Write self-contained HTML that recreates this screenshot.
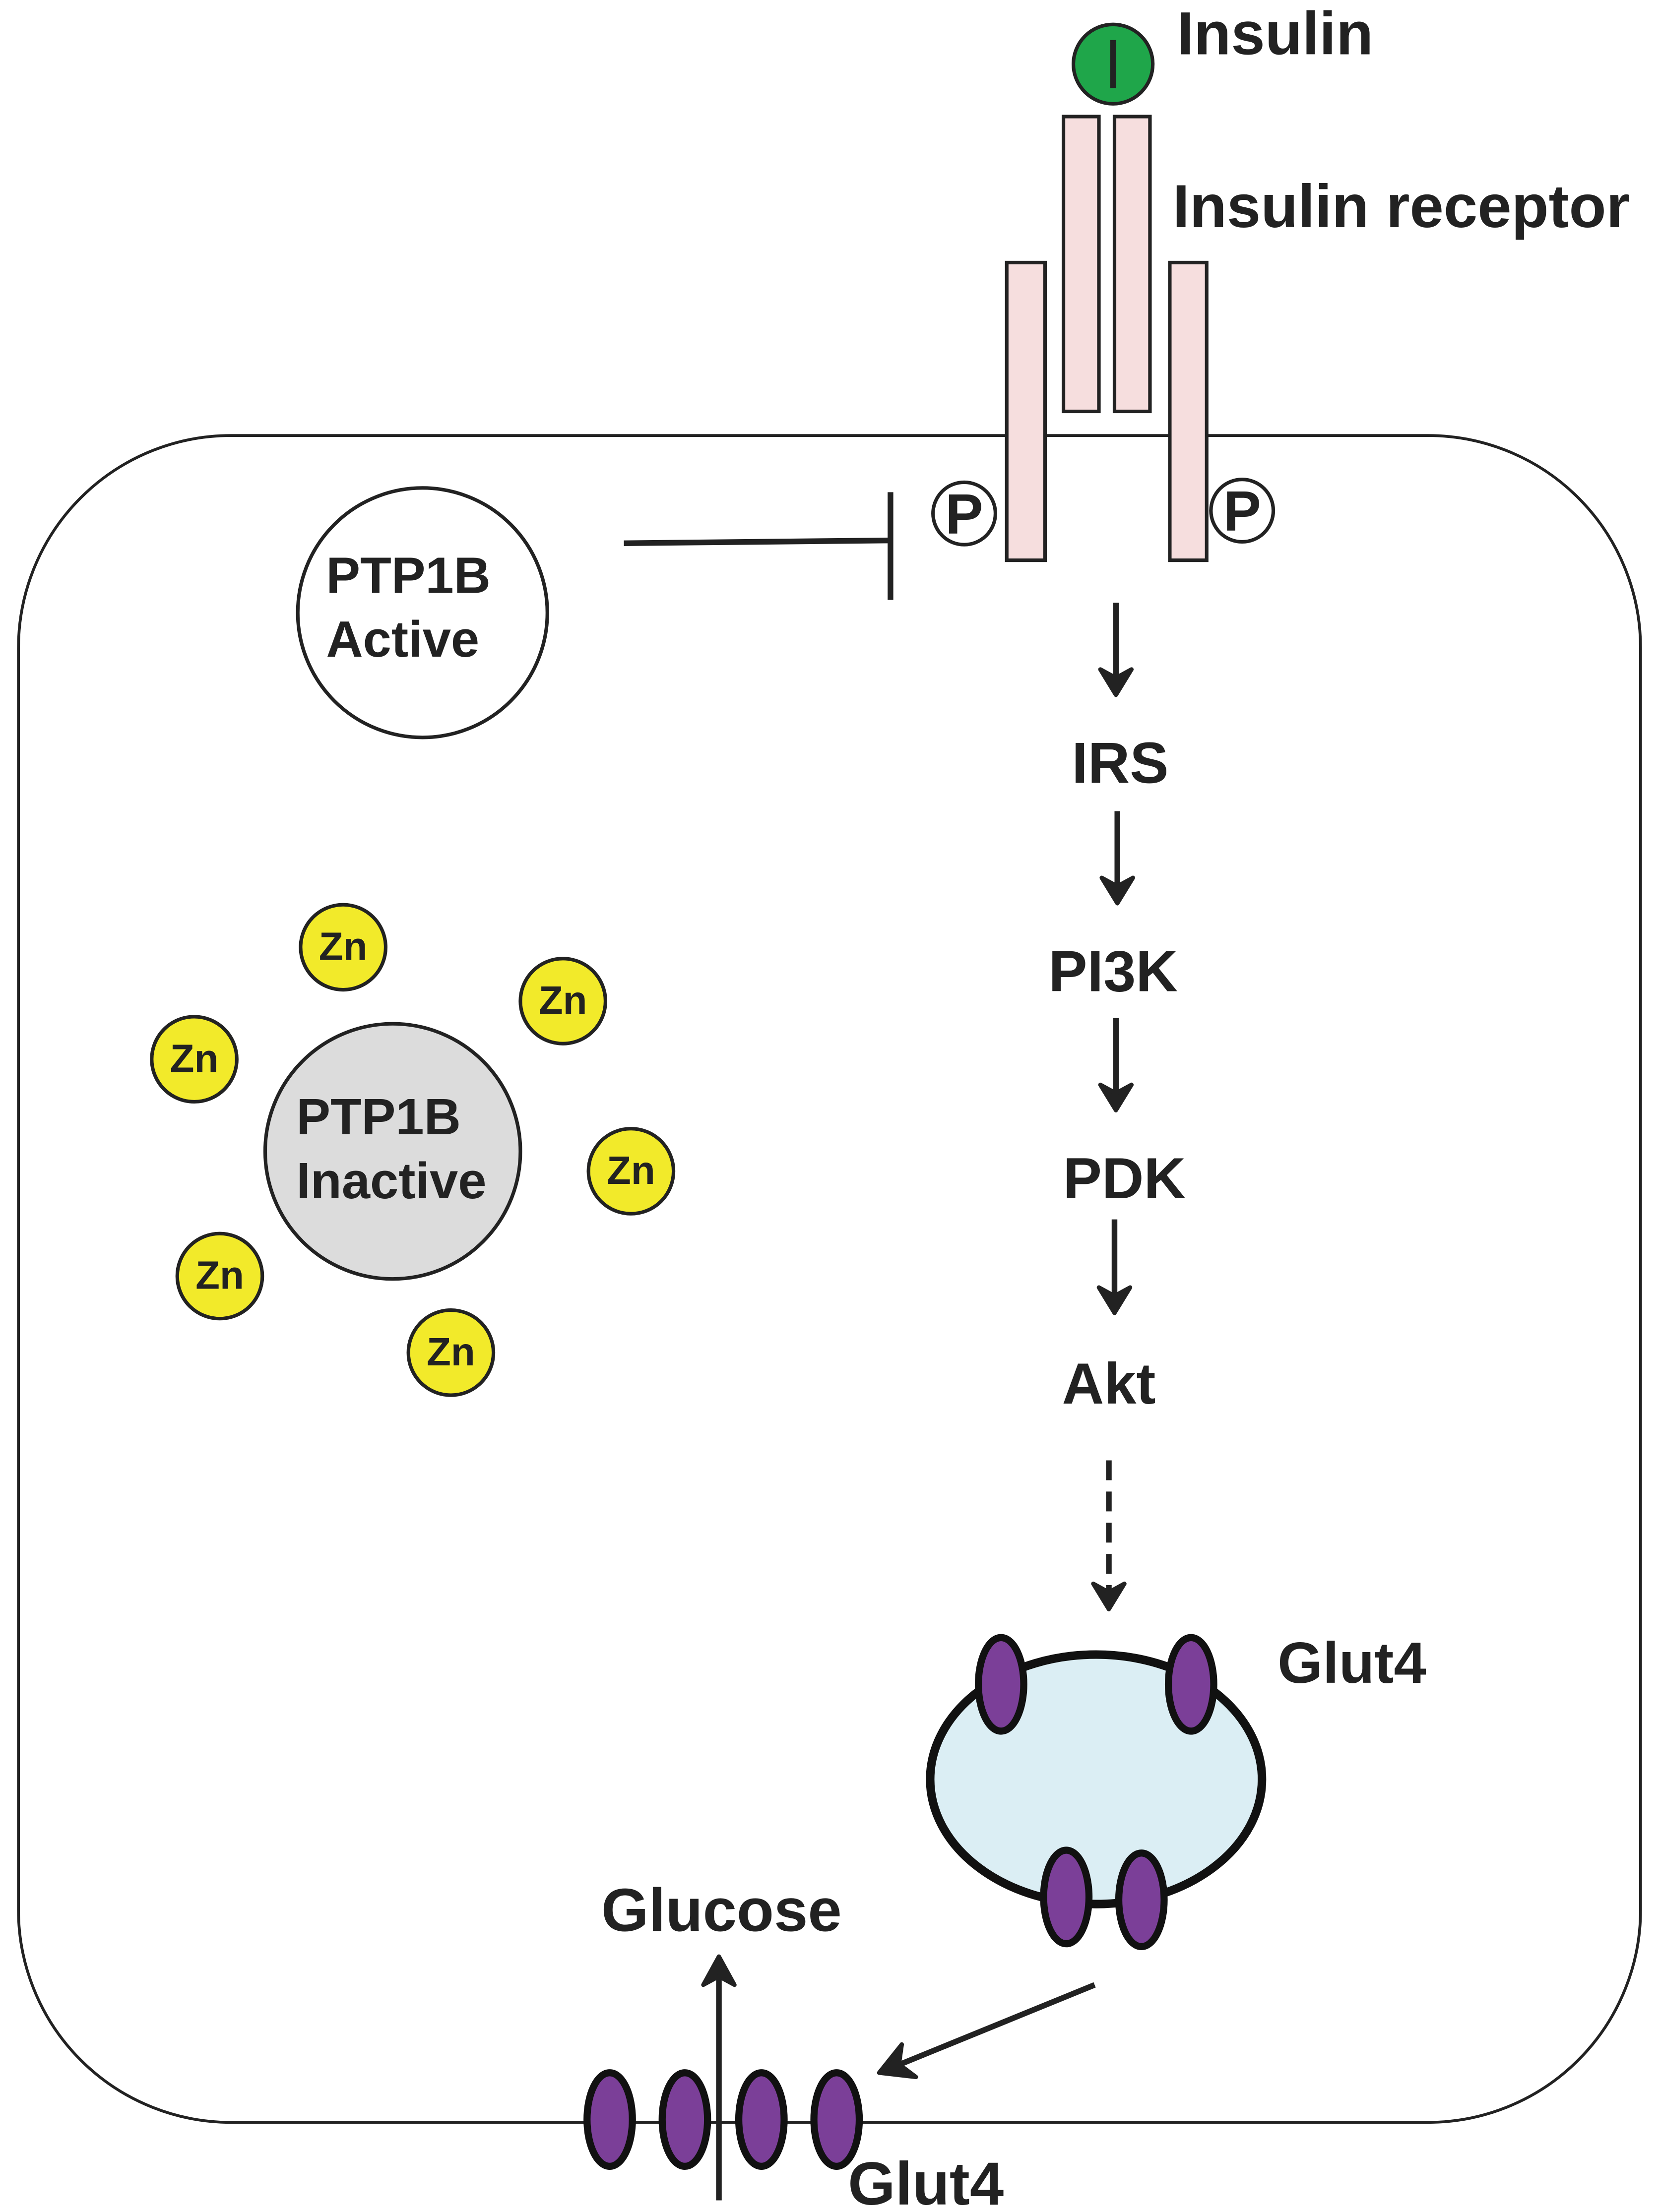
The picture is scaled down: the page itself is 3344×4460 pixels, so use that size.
<!DOCTYPE html>
<html><head><meta charset="utf-8"><style>
html,body{margin:0;padding:0;background:#fff;}
svg{display:block;}
text{font-family:"Liberation Sans",sans-serif;font-weight:bold;fill:#222;}
</style></head><body>
<svg width="3344" height="4460" viewBox="0 0 1170 1560" xmlns="http://www.w3.org/2000/svg">
<!-- cell -->
<rect x="13" y="307" width="1144" height="1190" rx="150" ry="150" fill="#fff" stroke="#222" stroke-width="2"/>
<!-- receptor -->
<g fill="#f6dede" stroke="#222" stroke-width="2.5">
<rect x="750" y="82" width="25" height="208"/>
<rect x="786" y="82" width="25" height="208"/>
<rect x="710" y="185" width="27" height="210"/>
<rect x="825" y="185" width="26" height="210"/>
</g>
<!-- insulin -->
<circle cx="785" cy="45" r="28" fill="#1fa64a" stroke="#222" stroke-width="2.5"/>
<line x1="785" y1="28" x2="785" y2="62" stroke="#222" stroke-width="4"/>
<text x="830" y="38" font-size="43">Insulin</text>
<text x="827" y="160" font-size="43">Insulin receptor</text>
<!-- P -->
<g stroke="#222" stroke-width="2.5" fill="#fff">
<circle cx="680" cy="362" r="22"/>
<circle cx="876" cy="360" r="22"/>
</g>
<text x="680" y="376" font-size="40" text-anchor="middle">P</text>
<text x="876" y="374" font-size="40" text-anchor="middle">P</text>
<!-- PTP1B active -->
<circle cx="298" cy="432" r="88" fill="#fff" stroke="#222" stroke-width="2.5"/>
<text x="230" y="418" font-size="36">PTP1B</text>
<text x="230" y="463" font-size="36">Active</text>
<line x1="440" y1="383" x2="628" y2="381" stroke="#222" stroke-width="4"/>
<line x1="628" y1="347" x2="628" y2="423" stroke="#222" stroke-width="4"/>
<!-- pathway -->
<g stroke="#222" stroke-width="4" fill="none" stroke-linejoin="miter">
<line x1="787" y1="425" x2="787" y2="480"/>
<line x1="788" y1="572" x2="788" y2="627"/>
<line x1="787" y1="718" x2="787" y2="773"/>
<line x1="786" y1="860" x2="786" y2="916"/>
<line x1="782" y1="1030" x2="782" y2="1125" stroke-dasharray="14,8"/>
</g>
<g fill="#222" stroke="#222" stroke-width="3" stroke-linejoin="round">
<polygon points="776,472 787,490 798,472 787,478"/>
<polygon points="777,619 788,637 799,619 788,625"/>
<polygon points="776,765 787,783 798,765 787,771"/>
<polygon points="775,908 786,926 797,908 786,914"/>
<polygon points="771,1117 782,1135 793,1117 782,1123"/>
</g>
<text x="790" y="552" font-size="41" text-anchor="middle">IRS</text>
<text x="785" y="699" font-size="41" text-anchor="middle">PI3K</text>
<text x="793" y="845" font-size="41" text-anchor="middle">PDK</text>
<text x="782" y="990" font-size="41" text-anchor="middle">Akt</text>
<!-- vesicle -->
<ellipse cx="773" cy="1255" rx="117" ry="88" fill="#dbeef4" stroke="#111" stroke-width="6"/>
<g fill="#7b3f98" stroke="#111" stroke-width="5">
<ellipse cx="706" cy="1188" rx="16" ry="33"/>
<ellipse cx="840" cy="1188" rx="16" ry="33"/>
<ellipse cx="752" cy="1338" rx="16" ry="33"/>
<ellipse cx="805" cy="1340" rx="16" ry="33"/>
</g>
<text x="901" y="1187" font-size="41">Glut4</text>
<line x1="772" y1="1400" x2="630" y2="1458" stroke="#222" stroke-width="4"/>
<polygon points="636,1442 620,1462 646,1465 634,1456" fill="#222" stroke="#222" stroke-width="3" stroke-linejoin="round"/>
<!-- membrane glut4 -->
<g fill="#7b3f98" stroke="#111" stroke-width="5">
<ellipse cx="430" cy="1495" rx="16" ry="33"/>
<ellipse cx="483" cy="1495" rx="16" ry="33"/>
<ellipse cx="537" cy="1495" rx="16" ry="33"/>
<ellipse cx="590" cy="1495" rx="16" ry="33"/>
</g>
<line x1="507" y1="1552" x2="507" y2="1392" stroke="#222" stroke-width="4"/>
<polygon points="496,1400 507,1380 518,1400 507,1394" fill="#222" stroke="#222" stroke-width="3" stroke-linejoin="round"/>
<text x="424" y="1362" font-size="43">Glucose</text>
<text x="598" y="1555" font-size="43">Glut4</text>
<!-- inactive -->
<circle cx="277" cy="812" r="90" fill="#dcdcdc" stroke="#222" stroke-width="2.5"/>
<text x="209" y="800" font-size="36">PTP1B</text>
<text x="209" y="845" font-size="36">Inactive</text>
<g fill="#f2ea2a" stroke="#222" stroke-width="2.5">
<circle cx="242" cy="668" r="30"/>
<circle cx="397" cy="706" r="30"/>
<circle cx="137" cy="747" r="30"/>
<circle cx="445" cy="826" r="30"/>
<circle cx="155" cy="900" r="30"/>
<circle cx="318" cy="954" r="30"/>
</g>
<g font-size="28" text-anchor="middle">
<text x="242" y="677">Zn</text>
<text x="397" y="715">Zn</text>
<text x="137" y="756">Zn</text>
<text x="445" y="835">Zn</text>
<text x="155" y="909">Zn</text>
<text x="318" y="963">Zn</text>
</g>
</svg>
</body></html>
